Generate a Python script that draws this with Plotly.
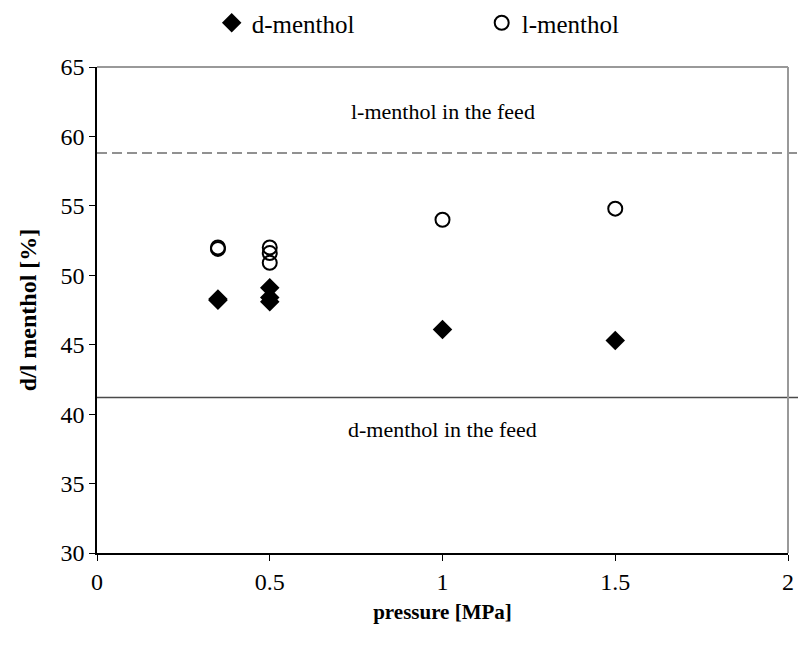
import plotly.graph_objects as go

# Measured enantiomer fractions in the permeate vs. feed pressure
pressure_d = [0.35, 0.35, 0.5, 0.5, 0.5, 1.0, 1.5]
d_menthol = [48.2, 48.3, 49.1, 48.4, 48.1, 46.1, 45.3]

pressure_l = [0.35, 0.35, 0.5, 0.5, 0.5, 1.0, 1.5]
l_menthol = [52.0, 51.9, 52.0, 51.6, 50.9, 54.0, 54.8]

# Composition of the feed
feed_l = 58.8
feed_d = 41.2

x_ticks = [0, 0.5, 1, 1.5, 2]
x_tick_labels = ["0", "0.5", "1", "1.5", "2"]
y_ticks = [30, 35, 40, 45, 50, 55, 60, 65]

FONT = "Times New Roman, Liberation Serif, serif"

fig = go.Figure()

fig.add_trace(go.Scatter(
    x=pressure_d, y=d_menthol, mode="markers", name="d-menthol",
    marker=dict(symbol="diamond", size=15, color="black",
                line=dict(width=0)),
    cliponaxis=False,
))
fig.add_trace(go.Scatter(
    x=pressure_l, y=l_menthol, mode="markers", name="l-menthol",
    marker=dict(symbol="circle-open", size=14, color="black",
                line=dict(width=2, color="black")),
    cliponaxis=False,
))

# Feed reference lines, running past the plot frame to the page edge
fig.add_shape(type="line", xref="paper", yref="y", x0=0, x1=1.02,
              y0=feed_l, y1=feed_l,
              line=dict(color="#6e6e6e", width=1.5, dash="10px,5px"))
fig.add_shape(type="line", xref="paper", yref="y", x0=0, x1=1.02,
              y0=feed_d, y1=feed_d,
              line=dict(color="#4a4a4a", width=1.5))

# Right and top frame of the plot area
fig.add_shape(type="line", xref="paper", yref="paper", x0=1, x1=1, y0=0, y1=1,
              line=dict(color="#999999", width=2))
fig.add_shape(type="line", xref="paper", yref="paper", x0=0, x1=1, y0=1, y1=1,
              line=dict(color="#999999", width=2))

fig.add_annotation(x=1.0, y=61.8, xref="x", yref="y",
                   text="l-menthol in the feed", showarrow=False,
                   font=dict(family=FONT, size=22, color="black"))
fig.add_annotation(x=1.0, y=38.9, xref="x", yref="y",
                   text="d-menthol in the feed", showarrow=False,
                   font=dict(family=FONT, size=22, color="black"))

fig.update_xaxes(
    range=[0, 2], tickvals=x_ticks, ticktext=x_tick_labels,
    ticks="outside", ticklen=6, tickcolor="black", tickwidth=1,
    showline=True, linecolor="black", linewidth=1.5,
    showgrid=False, zeroline=False, automargin=False,
    tickfont=dict(family=FONT, size=24, color="black"),
    title=dict(text="<b>pressure [MPa]</b>",
               font=dict(family=FONT, size=21, color="black"), standoff=11),
)
fig.update_yaxes(
    range=[30, 65], tickvals=y_ticks,
    ticks="outside", ticklen=6, tickcolor="black", tickwidth=1,
    showline=True, linecolor="black", linewidth=1.5,
    showgrid=False, zeroline=False, automargin=False,
    tickfont=dict(family=FONT, size=24, color="black"),
    title=dict(text="<b>d/l menthol [%]</b>",
               font=dict(family=FONT, size=24, color="black"), standoff=17),
)

fig.update_layout(
    width=798, height=654,
    margin=dict(l=97, r=10, t=67, b=101, autoexpand=False),
    paper_bgcolor="white", plot_bgcolor="white",
    showlegend=True,
    legend=dict(orientation="h", x=0.166, xanchor="left",
                yref="container", y=1.0, yanchor="top",
                entrywidth=225, entrywidthmode="pixels",
                font=dict(family=FONT, size=25, color="black"),
                bgcolor="rgba(0,0,0,0)"),
    font=dict(family=FONT, color="black"),
)

fig.write_html("out.html")
